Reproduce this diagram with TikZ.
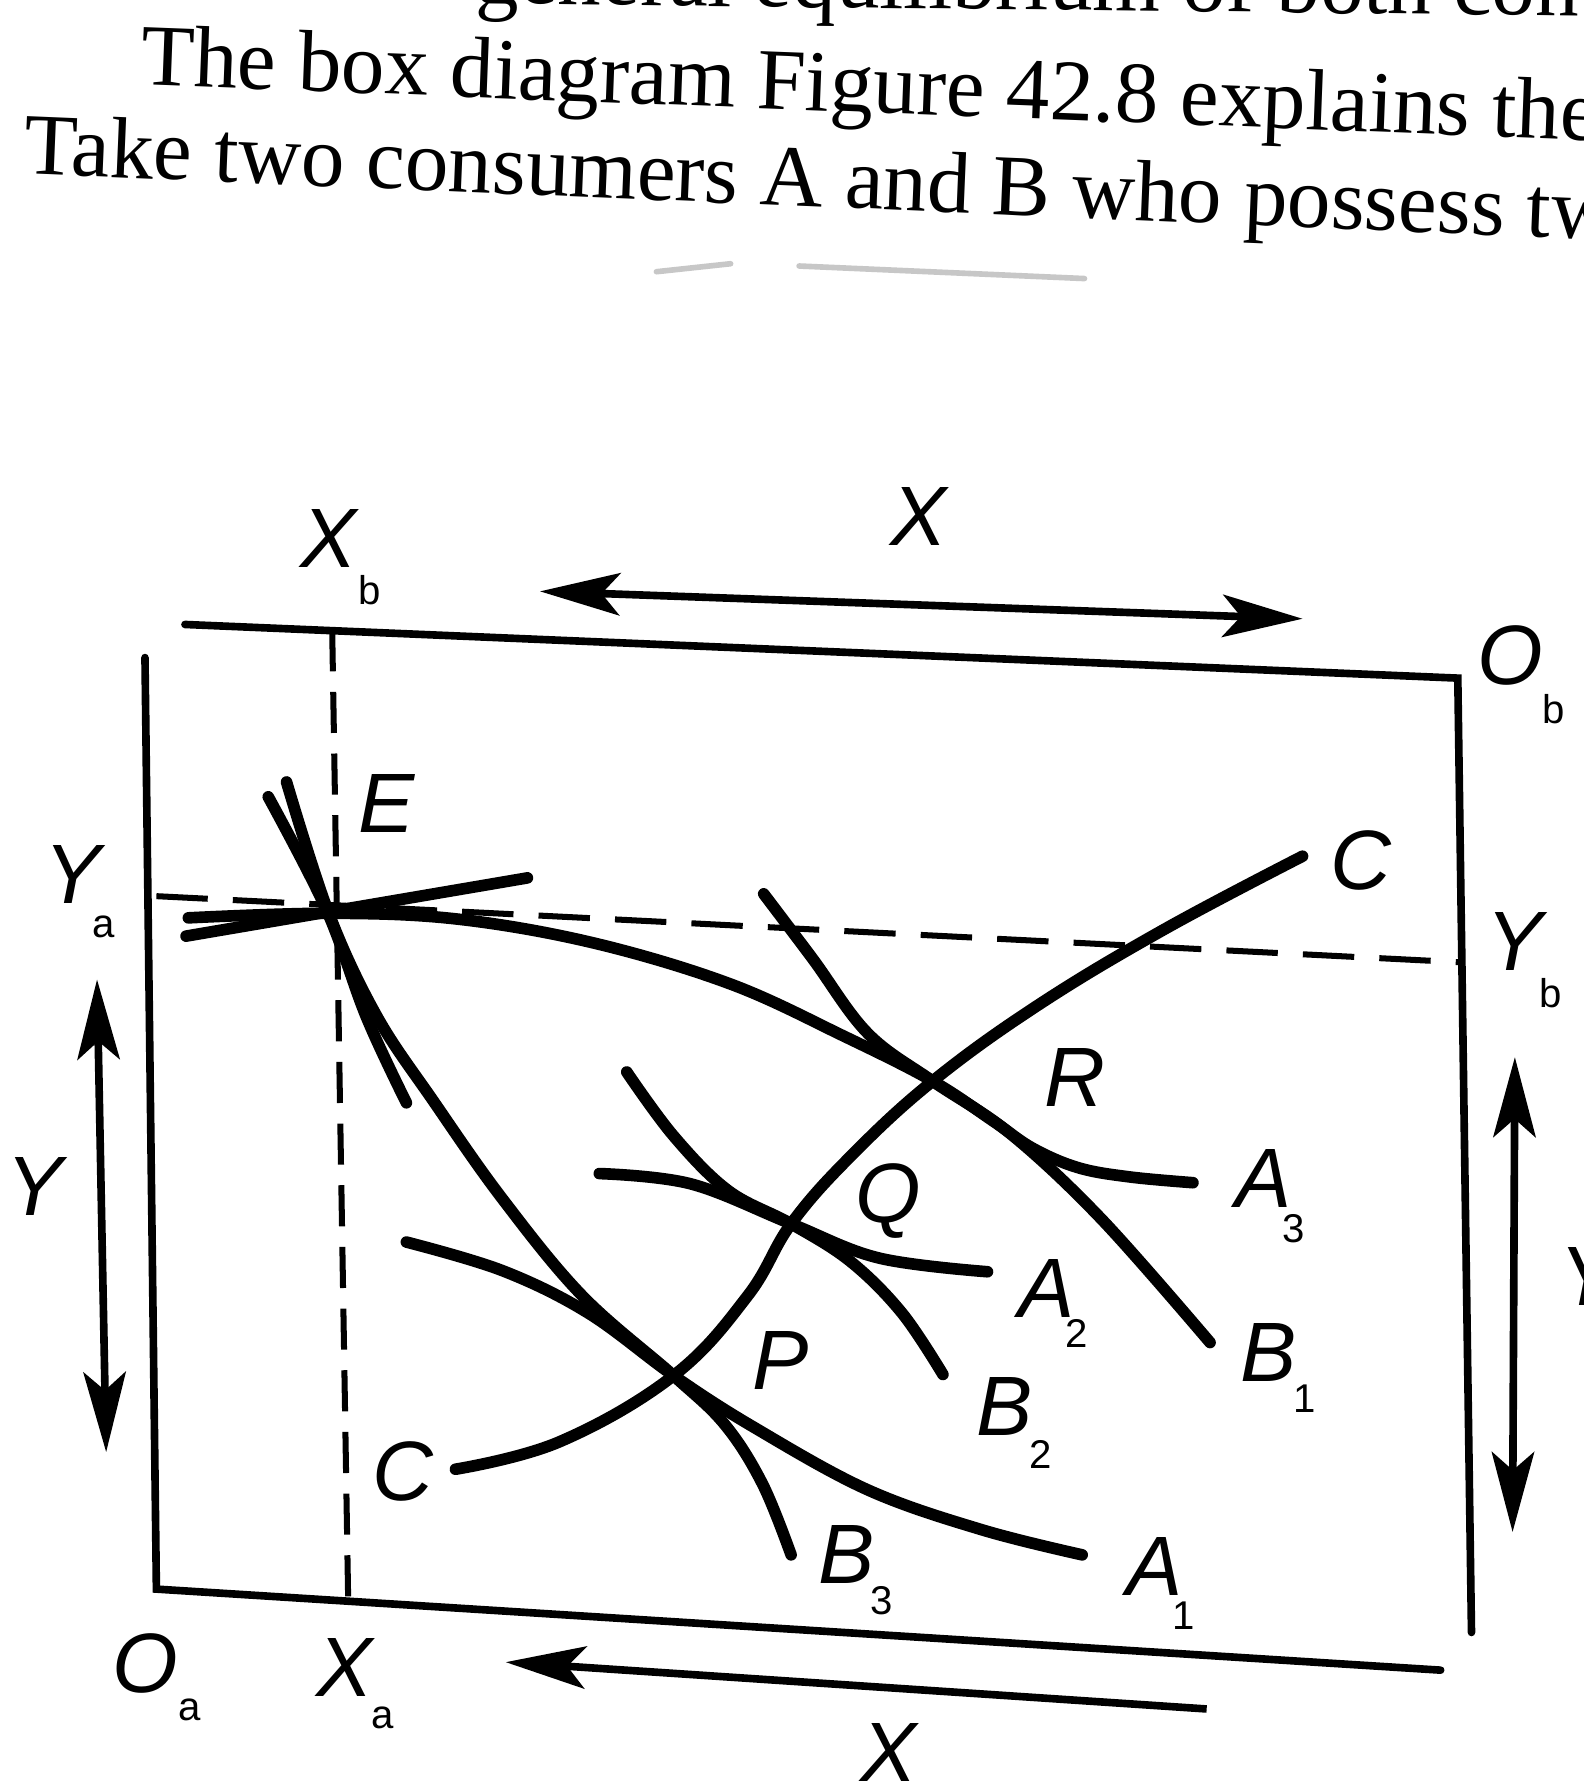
\documentclass[tikz,border=0pt]{standalone}
\usepackage{fontspec}
\setmainfont{Liberation Serif}
\setsansfont{Liberation Sans}
\usetikzlibrary{arrows.meta}
\begin{document}
\begin{tikzpicture}[x=0.01cm,y=-0.01cm,
  >={Stealth[length=0.7cm,width=0.37cm,inset=0.16cm]},
  boxline/.style={line width=1.9pt, line cap=round},
  curve/.style={line width=2.9pt, line cap=round, line join=round},
  dashv/.style={line width=1.5pt, dash pattern=on 0.36cm off 0.18cm},
  dashh/.style={line width=1.5pt, dash pattern=on 0.45cm off 0.22cm},
  arr/.style={line width=1.9pt},
  lab/.style={font=\sffamily\itshape\fontsize{21}{24}\selectfont, inner sep=0pt},
  sub/.style={font=\sffamily\fontsize{10}{12}\selectfont, inner sep=0pt},
  body/.style={font=\fontsize{21.7}{26}\selectfont, inner sep=0pt, anchor=base west}
]
\useasboundingbox (0,0) rectangle (1387,1568);
\fill[white] (0,0) rectangle (1387,1568);
\clip (0,0) rectangle (1387,1568);

% body text of the page
\node[body, rotate=-0.65] (t1) at (416,3) {general equilibrium of both con};
\node[body, rotate=-2.2] (t2) at (122,74) {The box diagram Figure 42.8 explains the};
\node[body, rotate=-2.4] (t3) at (20,152) {Take two consumers A and B who possess tw};
\draw[black!22, line width=1.4pt, line cap=round] (575,238) -- (640,231);
\draw[black!22, line width=1.4pt, line cap=round] (700,233) -- (950,244);

% box
\coordinate (TL) at (162,547);
\coordinate (Ob) at (1277,594);
\coordinate (RB) at (1289,1430);
\coordinate (LT) at (127,576);
\coordinate (Oa) at (137,1392);
\coordinate (BR) at (1262,1463);
\draw[boxline] (TL) -- (Ob) -- (RB);
\draw[boxline] (LT) -- (Oa) -- (BR);

% dashed guide lines
\coordinate (Xbt) at (291,552);
\coordinate (Xab) at (305,1402);
\coordinate (Yal) at (137,785);
\coordinate (Ybr) at (1281,843);
\draw[dashv] (Xbt) -- (Xab);
\draw[dashh] (Yal) -- (Ybr);

% arrows
\coordinate (TAl) at (473,518);
\coordinate (TAr) at (1141,542);
\draw[arr, <->] (TAl) -- (TAr);
\coordinate (BAl) at (443,1456);
\coordinate (BAr) at (1057,1497);
\draw[arr, ->] (BAr) -- (BAl);
\coordinate (LAt) at (85,858);
\coordinate (LAb) at (93,1272);
\draw[arr, <->] (LAt) -- (LAb);
\coordinate (RAt) at (1327,926);
\coordinate (RAb) at (1325,1342);
\draw[arr, <->] (RAt) -- (RAb);

% key points
\coordinate (E) at (288,800);
\coordinate (P) at (590,1205);
\coordinate (Q) at (693,1072);
\coordinate (R) at (817,947);

% curves through E
\draw[curve] (163,820) -- (462,769);
\draw[curve] plot[smooth, tension=0.6] coordinates {(165,804) (E) (400,805) (520,826) (640,862) (740,908) (R) (870,982) (905,1006) (945,1023) (990,1031) (1045,1036)};
\draw[curve] plot[smooth, tension=0.6] coordinates {(235,698) (286,797) (321,891) (356,966)};
\draw[curve] plot[smooth, tension=0.6] coordinates {(251,685) (E) (330,890) (380,965) (440,1050) (510,1135) (P) (635,1248) (668,1300) (693,1362)};

% A1
\draw[curve] plot[smooth, tension=0.6] coordinates {(356,1088) (440,1113) (515,1150) (P) (660,1250) (760,1305) (860,1340) (948,1362)};
% A2
\draw[curve] plot[smooth, tension=0.6] coordinates {(525,1028) (605,1037) (Q) (770,1102) (865,1114)};
% B2
\draw[curve] plot[smooth, tension=0.6] coordinates {(549,939) (590,995) (638,1043) (Q) (745,1105) (790,1150) (826,1204)};
% B1
\draw[curve] plot[smooth, tension=0.6] coordinates {(669,783) (712,840) (760,905) (R) (885,993) (965,1068) (1060,1176)};
% contract curve C
\draw[curve] plot[smooth, tension=0.65] coordinates {(399,1287) (490,1263) (P) (655,1135) (Q) (745,1013) (R) (910,880) (1020,814) (1141,750)};

% labels
\node[lab] (lXb) at (288,472) {X};
\node[sub] (lXbs) at (324,517) {b};
\node[lab] (lXt) at (805,452) {X};
\node[lab] (lOb) at (1323,574) {O};
\node[sub] (lObs) at (1361,621) {b};
\node[lab] (lE) at (339,704) {E};
\node[lab] (lYa) at (64,766) {Y};
\node[sub] (lYas) at (91,812) {a};
\node[lab] (lCu) at (1192,754) {C};
\node[lab] (lYb) at (1327,825) {Y};
\node[sub] (lYbs) at (1358,870) {b};
\node[lab] (lYl) at (30,1039) {Y};
\node[lab] (lR) at (942,944) {R};
\node[lab] (lQ) at (778,1052) {Q};
\node[lab] (lA3) at (1107,1032) {A};
\node[sub] (lA3s) at (1133,1076) {3};
\node[lab] (lA2) at (917,1129) {A};
\node[sub] (lA2s) at (943,1168) {2};
\node[lab] (lP) at (684,1192) {P};
\node[lab] (lB1) at (1111,1185) {B};
\node[sub] (lB1s) at (1143,1225) {1};
\node[lab] (lB2) at (880,1232) {B};
\node[sub] (lB2s) at (912,1274) {2};
\node[lab] (lCl) at (353,1289) {C};
\node[lab] (lB3) at (742,1362) {B};
\node[sub] (lB3s) at (772,1402) {3};
\node[lab] (lA1) at (1011,1372) {A};
\node[sub] (lA1s) at (1037,1415) {1};
\node[lab] (lYr) at (1391,1118) {Y};
\node[lab] (lOa) at (127,1457) {O};
\node[sub] (lOas) at (166,1498) {a};
\node[lab] (lXa) at (302,1461) {X};
\node[sub] (lXas) at (335,1505) {a};
\node[lab] (lXbot) at (778,1535) {X};
\end{tikzpicture}
\end{document}
